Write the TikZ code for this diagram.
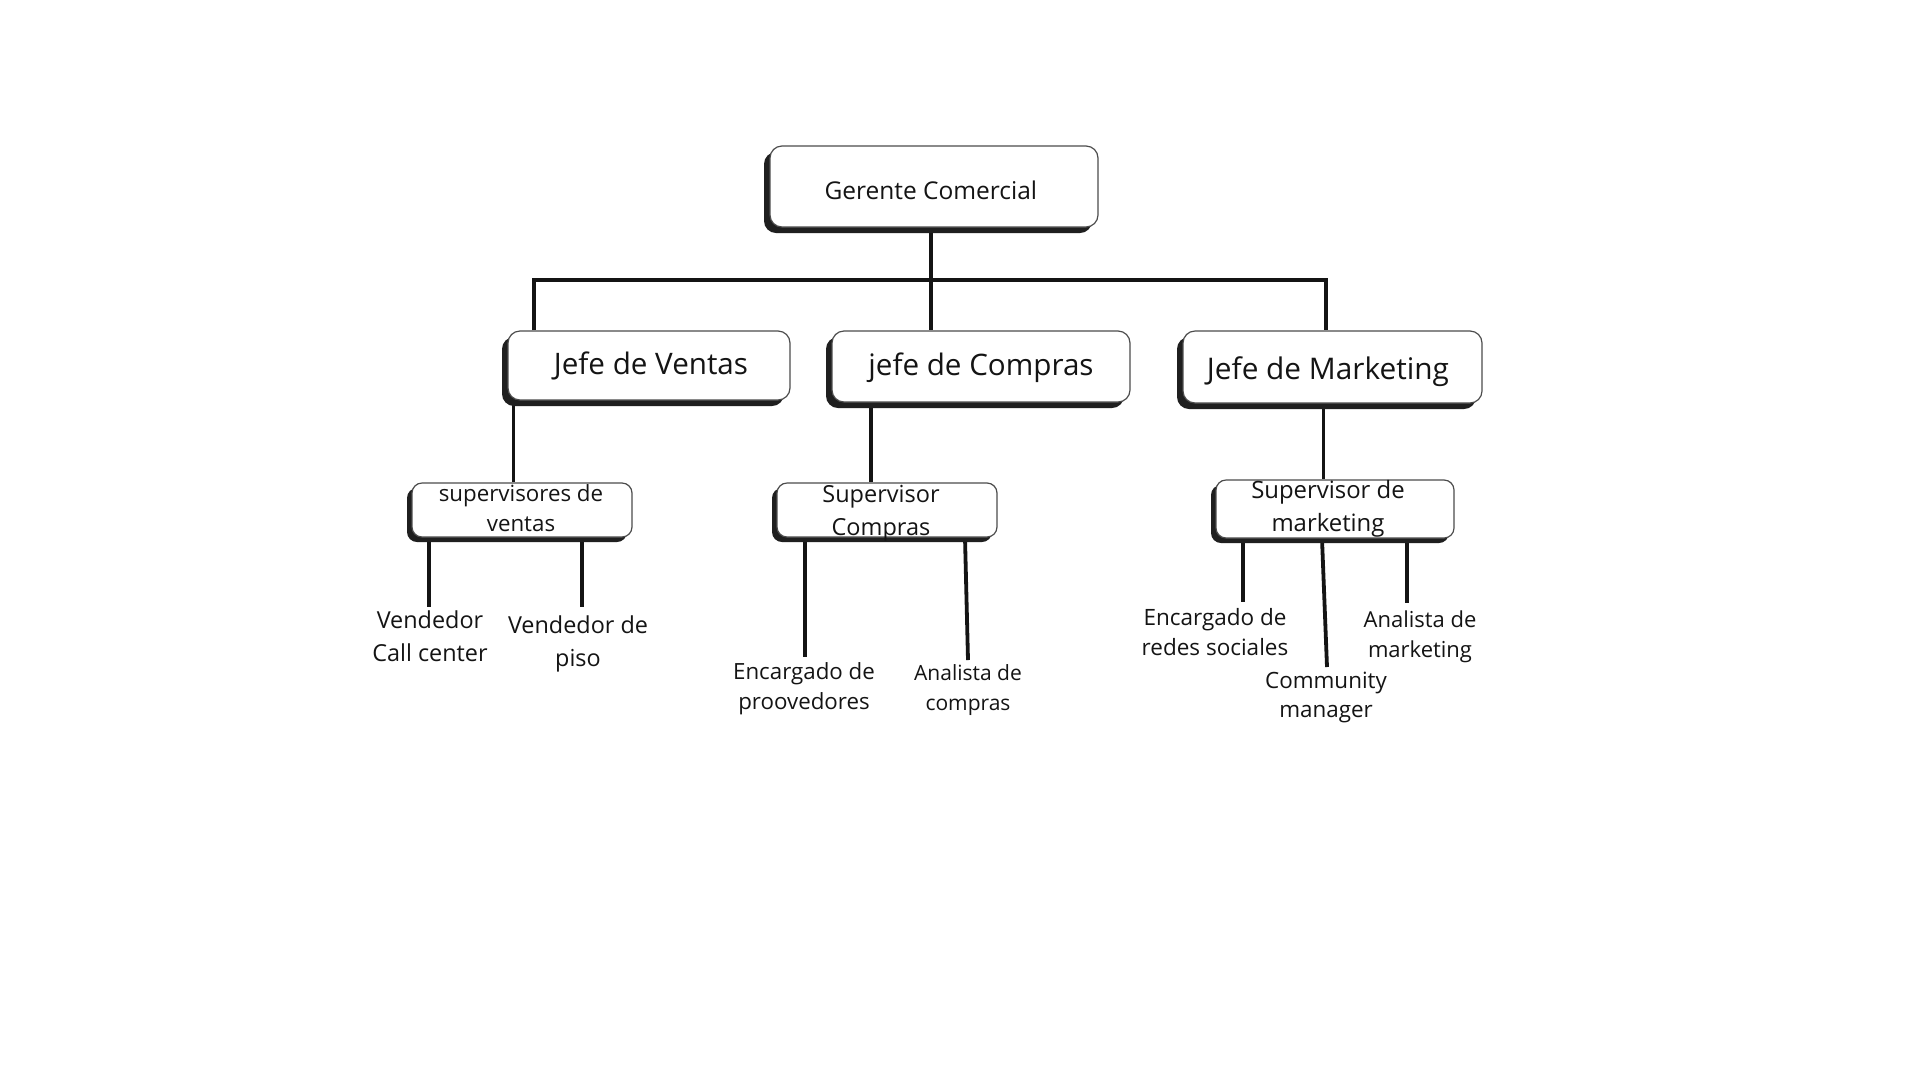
\documentclass[tikz,border=0pt]{standalone}
\usepackage{fontspec}
\setmainfont{Open Sans}
\usetikzlibrary{shadows}
\newcommand\setfs[2]{\fontsize{#1}{#2}\selectfont}
\pgfdeclarelayer{bg}
\pgfsetlayers{bg,main}
\begin{document}
\begin{tikzpicture}[x=1pt,y=-1pt,
  box/.style={draw=black!70, line width=1.2pt, fill=white, rounded corners=12pt, inner sep=0pt,
    drop shadow={shadow xshift=-#1, shadow yshift=-#1, fill=black!88, opacity=1}},
  box/.default=6pt,
  conn/.style={line width=3.8pt, draw=black!92},
  lbl/.style={align=center, inner sep=0pt, text=black!92},
  btxt/.style={inner sep=0pt, text=black!92, anchor=base}]
\useasboundingbox (0,0) rectangle (1920,1080);
% boxes
\node[box, minimum width=328pt, minimum height=81pt] (g) at (934,186.5) {};
\node[box, minimum width=282pt, minimum height=69pt] (jv) at (649,365.5) {};
\node[box, minimum width=298pt, minimum height=71pt] (jc) at (981,366.5) {};
\node[box, minimum width=299pt, minimum height=72pt] (jm) at (1332.5,367) {};
\node[box=5pt, rounded corners=10pt, minimum width=220pt, minimum height=54pt] (sv) at (522,510) {};
\node[box=5pt, rounded corners=10pt, minimum width=220pt, minimum height=54pt] (sc) at (887,510) {};
\node[box=5pt, rounded corners=10pt, minimum width=238pt, minimum height=58pt] (sm) at (1335,509) {};
% box texts
\node[btxt, font=\setfs{24.5}{30}] (gt) at (930.8,199) {Gerente Comercial};
\node[btxt, font=\setfs{29.6}{36}] (jvt) at (651,374) {Jefe de Ventas};
\node[btxt, font=\setfs{29.6}{36}] (jct) at (981,375) {jefe de Compras};
\node[btxt, font=\setfs{29.8}{36}] (jmt) at (1328,379) {Jefe de Marketing};
\node[lbl, font=\setfs{22.3}{30}] (svt) at (521,510.5) {supervisores de\strut\\ventas\strut};
\node[lbl, font=\setfs{23.5}{33}] (sct) at (881,512) {Supervisor\strut\\Compras\strut};
\node[lbl, font=\setfs{23.9}{33}] (smt) at (1328,508) {Supervisor de\strut\\marketing\strut};
% leaf texts
\node[lbl, font=\setfs{23.4}{33}] (l1) at (430,638) {Vendedor\strut\\Call center\strut};
\node[lbl, font=\setfs{23.4}{33}] (l2) at (578,643) {Vendedor de\strut\\piso\strut};
\node[lbl, font=\setfs{22.3}{30.5}] (l3) at (804,688.5) {Encargado de\strut\\proovedores\strut};
\node[lbl, font=\setfs{21}{30}] (l4) at (968,689.5) {Analista de\strut\\compras\strut};
\node[lbl, font=\setfs{22.5}{30}] (l5) at (1215,634.5) {Encargado de\strut\\redes sociales\strut};
\node[lbl, font=\setfs{22.4}{29.5}] (l6) at (1326,697) {Community\strut\\manager\strut};
\node[lbl, font=\setfs{22}{30}] (l7) at (1420,636.5) {Analista de\strut\\marketing\strut};
% connectors
\begin{pgfonlayer}{bg}
\fill[white] (0,0) rectangle (1920,1080);
\coordinate (j) at (930.6,280);
\coordinate (jl) at (534,280);
\coordinate (jr) at (1326,280);
\draw[conn] (g.south -| j) -- (j);
\draw[conn] (jv.north -| jl) -- (jl) -- (jr) -- (jm.north -| jr);
\draw[conn] (j) -- (jc.north -| j);
\coordinate (cv) at (513.5,0);
\coordinate (cc) at (871,0);
\coordinate (cm) at (1323.5,0);
\draw[conn] (jv.south -| cv) -- (sv.north -| cv);
\draw[conn] (jc.south -| cc) -- (sc.north -| cc);
\draw[conn] (jm.south -| cm) -- (sm.north -| cm);
\coordinate (e1) at (429,607);
\coordinate (e2) at (582,607);
\coordinate (e3) at (805,657);
\coordinate (t4) at (965,0);
\coordinate (e4) at (968,660);
\coordinate (e5) at (1243,602);
\coordinate (t6) at (1322,0);
\coordinate (e6) at (1327,667);
\coordinate (e7) at (1407,603);
\draw[conn] (sv.south -| e1) -- (e1);
\draw[conn] (sv.south -| e2) -- (e2);
\draw[conn] (sc.south -| e3) -- (e3);
\draw[conn] (sc.south -| t4) -- (e4);
\draw[conn] (sm.south -| e5) -- (e5);
\draw[conn] (sm.south -| t6) -- (e6);
\draw[conn] (sm.south -| e7) -- (e7);
\end{pgfonlayer}
\end{tikzpicture}
\end{document}
